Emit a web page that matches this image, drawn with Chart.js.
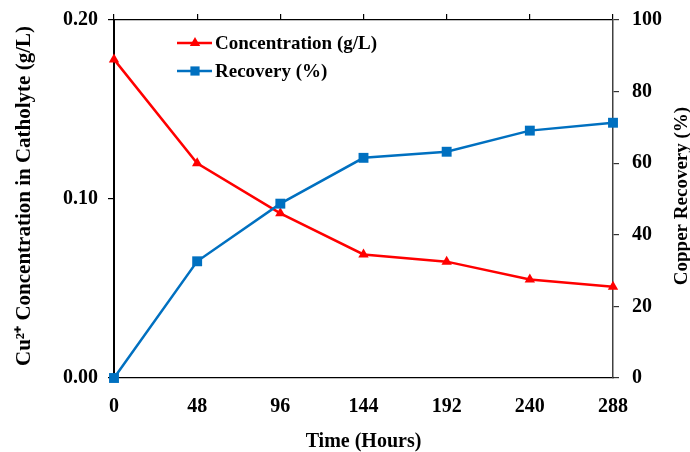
<!DOCTYPE html>
<html>
<head>
<meta charset="utf-8">
<script src="https://cdn.jsdelivr.net/npm/chart.js@4.4.1/dist/chart.umd.min.js"></script>
<style>
  html, body { margin: 0; padding: 0; background: #fff; }
  #wrap { width: 690px; height: 452px; }
</style>
</head>
<body>
<div id="wrap"><canvas id="myChart" width="690" height="452"></canvas></div>
<script>
// time in hours
var hours = [0, 48, 96, 144, 192, 240, 288];
// Cu2+ concentration in catholyte (g/L)
var concentration = [0.178, 0.120, 0.092, 0.069, 0.065, 0.055, 0.051];
// copper recovery (%)
var recovery = [0, 32.6, 48.7, 61.5, 63.2, 69.1, 71.3];

var leftTicks = [0, 0.1, 0.2];
var rightTicks = [0, 20, 40, 60, 80, 100];

var RED = "#ff0000";
var BLUE = "#0070c0";
var FONT = "Liberation Serif";

function toPoints(xs, ys) {
    var pts = [];
    for (var i = 0; i < xs.length; i++) {
        pts.push({ x: xs[i], y: ys[i] });
    }
    return pts;
}

// fixed axis box sizes so the plot area lands where wanted
function fixWidth(w) {
    return function (s) {
        s.width = w;
        s.paddingTop = 0;
        s.paddingBottom = 0;
    };
}
function fixHeight(h) {
    return function (s) {
        s.height = h;
        s.paddingLeft = 0;
        s.paddingRight = 0;
    };
}

// axis titles + legend drawn by hand
var extras = {
    id: "extras",
    afterDraw: function (chart) {
        var ctx = chart.ctx;
        var area = chart.chartArea;
        ctx.save();
        ctx.fillStyle = "#000";
        ctx.textAlign = "center";
        ctx.textBaseline = "middle";

        ctx.font = "bold 20px '" + FONT + "'";
        ctx.fillText("Time (Hours)", (area.left + area.right) / 2, 442);

        ctx.save();
        ctx.font = "bold 21px '" + FONT + "'";
        ctx.translate(25, 196);
        ctx.rotate(-Math.PI / 2);
        ctx.fillText("Cu\u00b2\u207a Concentration in Catholyte (g/L)", 0, 0);
        ctx.restore();

        ctx.save();
        ctx.font = "bold 19px '" + FONT + "'";
        ctx.translate(682, 196);
        ctx.rotate(-Math.PI / 2);
        ctx.fillText("Copper Recovery (%)", 0, 0);
        ctx.restore();

        // legend
        var items = [
            { label: "Concentration (g/L)", color: RED, style: "triangle", r: 6, y: 43 },
            { label: "Recovery (%)", color: BLUE, style: "rect", r: 6.5, y: 71 }
        ];
        ctx.font = "bold 19px '" + FONT + "'";
        ctx.textAlign = "left";
        items.forEach(function (it) {
            ctx.strokeStyle = it.color;
            ctx.lineWidth = 2.5;
            ctx.beginPath();
            ctx.moveTo(177, it.y);
            ctx.lineTo(212, it.y);
            ctx.stroke();
            ctx.fillStyle = it.color;
            Chart.helpers.drawPoint(ctx, { pointStyle: it.style, radius: it.r, borderWidth: 0 }, 195, it.y);
            ctx.fillStyle = "#000";
            ctx.fillText(it.label, 215, it.y + 1);
        });
        ctx.restore();
    }
};

var tickFont = { family: FONT, size: 20, weight: "bold" };

myChart = new Chart(document.getElementById("myChart"), {
    type: "line",
    data: {
        datasets: [
            {
                label: "Concentration (g/L)",
                data: toPoints(hours, concentration),
                yAxisID: "y",
                borderColor: RED,
                backgroundColor: RED,
                borderWidth: 2.5,
                pointStyle: "triangle",
                pointRadius: 6,
                pointBorderWidth: 0,
                clip: false,
                order: 2
            },
            {
                label: "Recovery (%)",
                data: toPoints(hours, recovery),
                yAxisID: "y2",
                borderColor: BLUE,
                backgroundColor: BLUE,
                borderWidth: 2.5,
                pointStyle: "rect",
                pointRadius: 7,
                pointBorderWidth: 0,
                clip: false,
                order: 1
            }
        ]
    },
    options: {
        responsive: false,
        animation: false,
        layout: { padding: 0 },
        plugins: {
            legend: { display: false },
            tooltip: { enabled: false }
        },
        scales: {
            x: {
                type: "linear",
                position: "bottom",
                min: 0,
                max: 288,
                afterBuildTicks: function (s) { s.ticks = hours.map(function (v) { return { value: v }; }); },
                afterFit: fixHeight(74),
                ticks: { color: "#000", font: tickFont, padding: 17, maxRotation: 0 },
                grid: { display: true, drawOnChartArea: false, drawTicks: false },
                border: { display: true, color: "#000", width: 1.2 }
            },
            xTop: {
                type: "linear",
                position: "top",
                min: 0,
                max: 288,
                afterBuildTicks: function (s) { s.ticks = hours.map(function (v) { return { value: v }; }); },
                afterFit: fixHeight(20),
                ticks: { display: false },
                grid: { drawOnChartArea: false, drawTicks: true, tickLength: 6, color: "#000", lineWidth: 1.2 },
                border: { display: true, color: "#000", width: 1.2 }
            },
            y: {
                position: "left",
                min: 0,
                max: 0.2,
                afterBuildTicks: function (s) { s.ticks = leftTicks.map(function (v) { return { value: v }; }); },
                afterFit: fixWidth(114),
                ticks: {
                    color: "#000",
                    font: tickFont,
                    padding: 10,
                    callback: function (v) { return v.toFixed(2); }
                },
                grid: { drawOnChartArea: false, drawTicks: true, tickLength: 6, color: "#000", lineWidth: 1.2 },
                border: { display: true, color: "#000", width: 2 }
            },
            y2: {
                position: "right",
                min: 0,
                max: 100,
                afterBuildTicks: function (s) { s.ticks = rightTicks.map(function (v) { return { value: v }; }); },
                afterFit: fixWidth(77),
                ticks: { color: "#000", font: tickFont, padding: 13 },
                grid: { drawOnChartArea: false, drawTicks: true, tickLength: 6, color: "#333", lineWidth: 1.2 },
                border: { display: true, color: "#404040", width: 1.5 }
            }
        }
    },
    plugins: [extras]
});
</script>
</body>
</html>
